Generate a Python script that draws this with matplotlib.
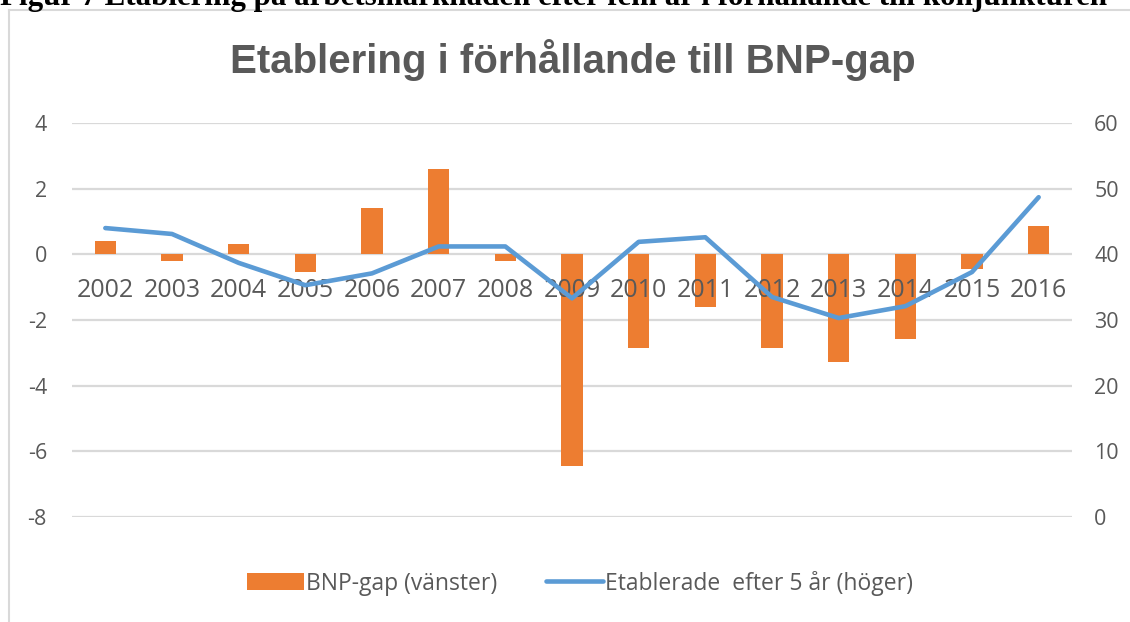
import matplotlib
matplotlib.use("Agg")
import matplotlib.pyplot as plt
from matplotlib.lines import Line2D
from matplotlib.patches import Patch

years = ["2002", "2003", "2004", "2005", "2006", "2007", "2008", "2009",
         "2010", "2011", "2012", "2013", "2014", "2015", "2016"]
bnp_gap = [0.40, -0.20, 0.30, -0.55, 1.40, 2.60, -0.20, -6.45,
           -2.84, -1.60, -2.85, -3.27, -2.57, -0.46, 0.85]
etablerade = [44.0, 43.1, 38.7, 35.3, 37.1, 41.2, 41.2, 33.3,
              41.9, 42.6, 33.5, 30.3, 32.1, 37.3, 48.7]
left_ticks = [-8, -6, -4, -2, 0, 2, 4]
right_ticks = [0, 10, 20, 30, 40, 50, 60]

ORANGE = "#ED7D31"
BLUE = "#5B9BD5"
GRID = "#D9D9D9"
TXT = "#595959"

W, H = 1130, 622
fig = plt.figure(figsize=(W/100, H/100), dpi=100)
ax = fig.add_axes([72/W, 1-517/H, (1072-72)/W, (517-123)/H])
ax2 = ax.twinx()

x = list(range(len(years)))
ax.set_zorder(1)
ax2.set_zorder(2)
ax.patch.set_visible(False)
ax2.patch.set_visible(False)

for yv in left_ticks:
    ax.axhline(yv, color=GRID, lw=1.6, zorder=0)
ax.bar(x, bnp_gap, width=0.32, color=ORANGE, zorder=2)
ax2.plot(x, etablerade, color=BLUE, lw=3.3, solid_capstyle="round",
         solid_joinstyle="round", zorder=3)

ax.set_xlim(-0.5, len(years) - 0.5)
ax.set_ylim(-8, 4)
ax2.set_ylim(0, 60)
ax.set_yticks(left_ticks)
ax2.set_yticks(right_ticks)
ax.set_yticklabels([str(v) for v in left_ticks])
ax2.set_yticklabels([str(v) for v in right_ticks])

for a in (ax, ax2):
    for s in a.spines.values():
        s.set_visible(False)
ax.spines["bottom"].set_position(("data", 0))
ax.xaxis.set_zorder(3)
ax.set_xticks(x)
ax.set_xticklabels(years)
ax.tick_params(axis="x", length=0, pad=17, labelsize=18, labelcolor=TXT)
ax.tick_params(axis="y", length=0, pad=18, labelsize=15.5, labelcolor=TXT)
ax2.tick_params(axis="y", length=0, pad=16, labelsize=15.5, labelcolor=TXT)
for lab in ax.get_xticklabels() + ax.get_yticklabels() + ax2.get_yticklabels():
    lab.set_fontfamily("Open Sans")

fig.text(573/W, 1-60/H, "Etablering i förhållande till BNP-gap",
         ha="center", va="center", fontsize=29, fontweight="bold",
         color=TXT, family="Liberation Sans")

fig.text(0.0, 1-5/H,
         "Figur 7 Etablering på arbetsmarknaden efter fem år i förhållande till konjunkturen",
         ha="left", va="baseline", fontsize=22.3, fontweight="bold",
         color="black", family="Liberation Serif")

# outer chart frame (partially visible)
fig.add_artist(Line2D([9/W, 9/W], [0, 1-10/H], transform=fig.transFigure,
                      color=GRID, lw=1.5, zorder=0))
fig.add_artist(Line2D([9/W, 1], [1-10/H, 1-10/H], transform=fig.transFigure,
                      color=GRID, lw=1.5, zorder=0))

handles = [Patch(facecolor=ORANGE, edgecolor="none"),
           Line2D([0], [0], color=BLUE, lw=3.3, solid_capstyle="round")]
leg = fig.legend(handles, ["BNP-gap (vänster)", "Etablerade  efter 5 år (höger)"],
                 loc="center", bbox_to_anchor=(580/W, 1-583/H), ncol=2,
                 frameon=False, handlelength=2.5, handletextpad=0.1,
                 columnspacing=2.1, prop={"family": "Open Sans", "size": 16.5})
for t in leg.get_texts():
    t.set_color(TXT)

fig.savefig("out.png", dpi=100)
